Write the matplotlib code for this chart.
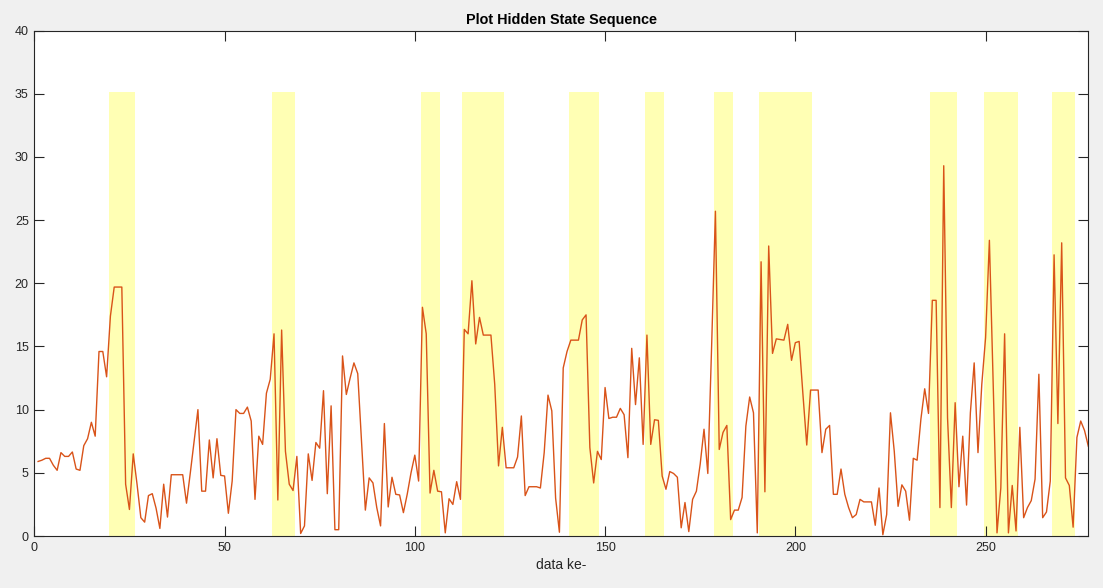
"""Hidden state sequence plot: observed series with highlighted state-2 segments."""

import matplotlib

matplotlib.use("Agg")
import matplotlib.pyplot as plt  # noqa: E402
import numpy as np  # noqa: E402

# observed series, one value per data index (1..277)
values = [
    5.9, 6.0, 6.15, 6.15, 5.6, 5.2, 6.6, 6.3, 6.3, 6.65,
    5.3, 5.2, 7.15, 7.7, 9.0, 7.9, 14.6, 14.6, 12.6, 17.4,
    19.7, 19.7, 19.7, 4.1, 2.1, 6.5, 4.1, 1.45, 1.1, 3.2,
    3.35, 2.2, 0.6, 4.1, 1.5, 4.85, 4.85, 4.85, 4.85, 2.6,
    5.0, 7.5, 10.0, 3.55, 3.55, 7.6, 4.6, 7.7, 4.8, 4.75,
    1.8, 4.35, 10.0, 9.7, 9.7, 10.2, 9.1, 2.9, 7.9, 7.25,
    11.3, 12.4, 16.0, 2.85, 16.3, 6.7, 4.1, 3.6, 6.3, 0.2,
    0.8, 6.5, 4.4, 7.4, 6.95, 11.5, 3.35, 10.3, 0.5, 0.5,
    14.25, 11.2, 12.5, 13.7, 12.85, 7.5, 2.05, 4.6, 4.2, 2.25,
    0.8, 8.9, 2.3, 4.65, 3.3, 3.25, 1.85, 3.3, 5.0, 6.4,
    4.35, 18.1, 16.0, 3.4, 5.2, 3.55, 3.5, 0.25, 2.95, 2.5,
    4.3, 2.9, 16.35, 16.0, 20.2, 15.2, 17.3, 15.9, 15.9, 15.9,
    12.0, 5.55, 8.6, 5.4, 5.4, 5.4, 6.25, 9.5, 3.2, 3.9,
    3.9, 3.9, 3.8, 6.6, 11.15, 9.9, 3.0, 0.3, 13.3, 14.6,
    15.5, 15.5, 15.5, 17.1, 17.5, 7.0, 4.2, 6.7, 6.05, 11.75,
    9.3, 9.4, 9.4, 10.1, 9.6, 6.2, 14.85, 10.4, 14.1, 7.25,
    15.9, 7.25, 9.2, 9.15, 4.75, 3.7, 5.1, 4.95, 4.65, 0.65,
    2.65, 0.35, 2.9, 3.55, 5.7, 8.45, 4.95, 15.0, 25.7, 6.85,
    8.2, 8.75, 1.3, 2.05, 2.05, 3.05, 8.7, 11.0, 9.75, 0.25,
    21.7, 3.5, 22.95, 14.45, 15.6, 15.55, 15.5, 16.75, 13.9, 15.3,
    15.4, 11.2, 7.2, 11.55, 11.55, 11.55, 6.6, 8.45, 8.75, 3.3,
    3.3, 5.3, 3.3, 2.25, 1.45, 1.7, 2.9, 2.7, 2.7, 2.7,
    0.85, 3.8, 0.1, 1.7, 9.75, 6.7, 2.35, 4.05, 3.55, 1.25,
    6.15, 6.0, 9.25, 11.65, 9.7, 18.65, 18.65, 2.25, 29.3, 9.35,
    2.25, 10.55, 3.9, 7.9, 2.45, 9.75, 13.7, 6.6, 12.0, 15.7,
    23.4, 12.0, 0.25, 3.8, 16.0, 0.25, 4.0, 0.4, 8.6, 1.45,
    2.25, 2.8, 4.5, 12.8, 1.45, 1.9, 4.35, 22.25, 8.9, 23.2,
    4.6, 4.0, 0.7, 7.8, 9.1, 8.35, 7.1,
]

# first and last data index of each highlighted hidden-state segment
state_start = [20, 63, 102, 113, 141, 161, 179, 191, 236, 250, 268]
state_end = [26, 68, 106, 123, 148, 165, 183, 204, 242, 258, 273]

x = np.arange(1, len(values) + 1)
values = np.array(values)
band_h = 1.2 * values.max()

ink = "#262626"
plt.rcParams["font.family"] = ["Liberation Sans", "DejaVu Sans"]

fig = plt.figure(figsize=(11.03, 5.88), dpi=100, facecolor="#f0f0f0")
ax = fig.add_axes([0.0311, 0.0884, 0.9556, 0.8597])

for s, e in zip(state_start, state_end):
    ax.bar((s + e) / 2, band_h, width=e - s + 1, color="#ffffb4",
           edgecolor="none", zorder=1)

ax.plot(x, values, color="#d95319", lw=1.0, zorder=2)

ax.set_xlim(0, len(values))
ax.set_ylim(0, 40)
ax.set_xticks(np.arange(0, 251, 50))
ax.set_yticks(np.arange(0, 41, 5))
ax.tick_params(direction="in", length=7, width=0.8, colors=ink,
               labelsize=9, top=True, right=True, pad=4)
for sp in ax.spines.values():
    sp.set_color(ink)
    sp.set_linewidth(0.8)

ax.set_title("Plot Hidden State Sequence", fontsize=10.4, fontweight="bold",
             color="black", pad=5)
ax.set_xlabel("data ke-", fontsize=10, color=ink, labelpad=3)

fig.savefig("out.png", dpi=100, facecolor=fig.get_facecolor())
